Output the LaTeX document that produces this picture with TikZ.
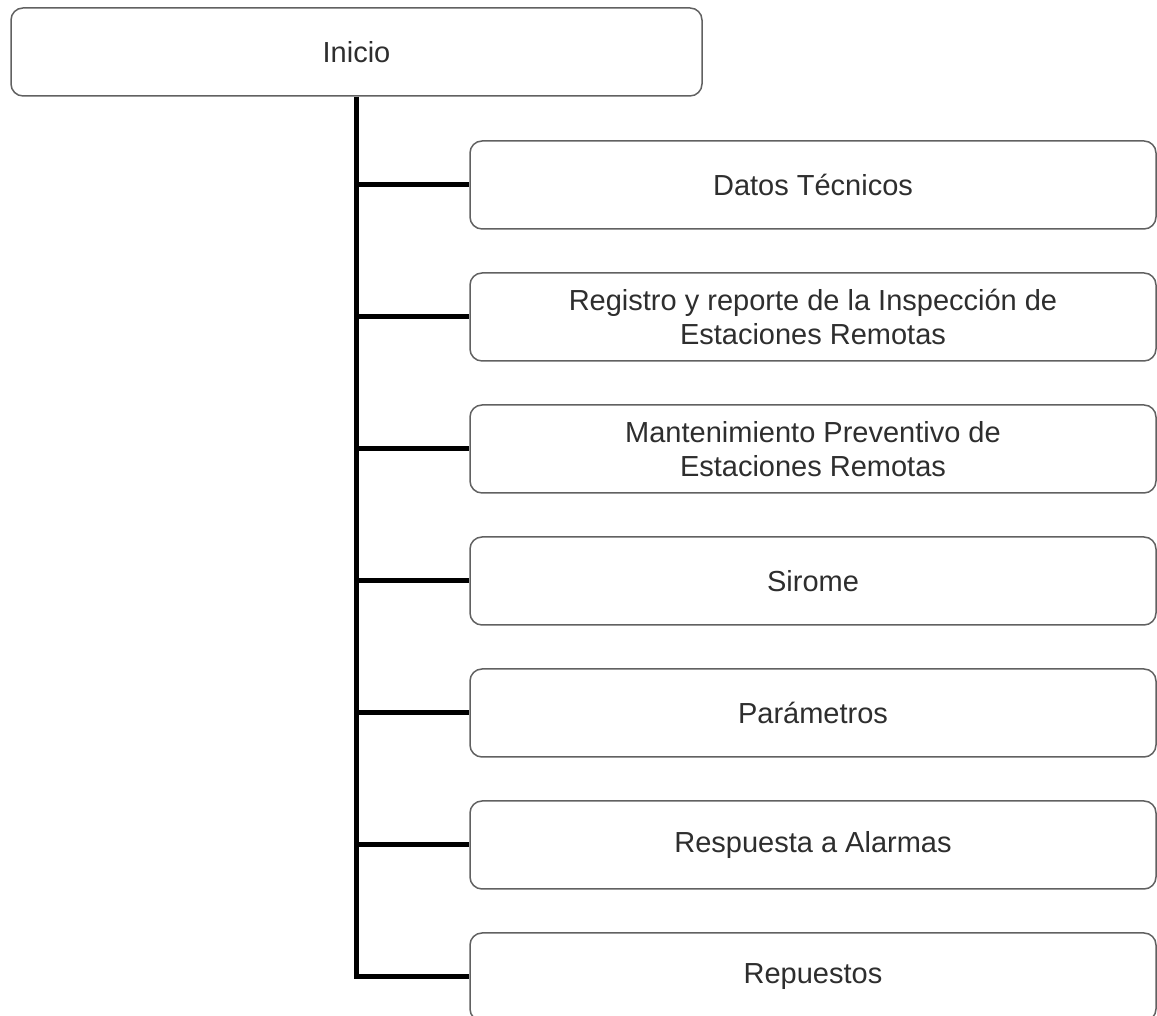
\documentclass[tikz,border=0pt]{standalone}
\usepackage{fontspec}
\setmainfont{Liberation Sans}
\begin{document}
\begin{tikzpicture}[x=1pt,y=1pt,
  box/.style={draw=black!62, line width=1.5pt, rounded corners=12pt, fill=white,
    minimum height=88pt, align=center, inner sep=0pt,
    font=\fontsize{29}{34}\selectfont, text=black!82},
  child/.style={box, minimum width=686pt},
  conn/.style={line width=5pt, black}]
  \useasboundingbox (0,0) rectangle (1157,1016);
  % root box
  \node[box, minimum width=691pt] (top) at (356.5,964) {Inicio};
  % child boxes, spaced 132pt apart
  \node[child] (c1) at (813,831) {Datos Técnicos};
  \node[child] (c2) at (813,699) {Registro y reporte de la Inspección de\\Estaciones Remotas};
  \node[child] (c3) at (813,567) {Mantenimiento Preventivo de\\Estaciones Remotas};
  \node[child] (c4) at (813,435) {Sirome};
  \node[child] (c5) at (813,303) {Parámetros};
  \node[child] (c6) at (813,171) {Respuesta a Alarmas};
  \node[child] (c7) at (813,39) {Repuestos};
  % trunk and branches
  \draw[conn] (top.south) |- (c7.west);
  \foreach \i in {1,...,6}
    \draw[conn] (top.south |- c\i.west) -- (c\i.west);
\end{tikzpicture}
\end{document}
